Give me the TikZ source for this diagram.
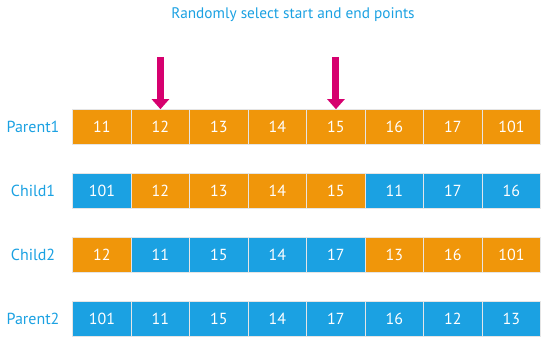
\documentclass[tikz,border=0pt]{standalone}
\usepackage{fontspec}
\setmainfont{PT Sans}
\usetikzlibrary{arrows.meta}
\definecolor{gaorange}{HTML}{F0960A}
\definecolor{gablue}{HTML}{1BA1E2}
\definecolor{gapink}{HTML}{D6006F}
\tikzset{
    cell/.style={draw=white!80!gray, line width=0.6pt, minimum width=58.5pt, minimum height=35pt,
        inner sep=0pt, text=white, font=\fontsize{16}{18}\selectfont},
    rowlabel/.style={text=gablue, font=\fontsize{16}{18}\selectfont},
    pick/.style={gapink, line width=7pt, -{Triangle[length=10pt,width=17pt]}}
}
\begin{document}
\begin{tikzpicture}[x=1pt,y=-1pt]
    \useasboundingbox (0,0) rectangle (550,342);
    \node[rowlabel, font=\fontsize{15.3}{18}\selectfont] (title) at (293,15) {Randomly select start and end points};
    % rows: label, y, cells
    \node[rowlabel] (L1) at (33,127) {Parent1};
    \foreach \v/\c [count=\i] in {11/gaorange,12/gaorange,13/gaorange,14/gaorange,15/gaorange,16/gaorange,17/gaorange,101/gaorange}
        \node[cell, fill=\c] (P1_\i) at (43.45+58.5*\i,127) {\v};
    \node[rowlabel] (L2) at (33,191) {Child1};
    \foreach \v/\c [count=\i] in {101/gablue,12/gaorange,13/gaorange,14/gaorange,15/gaorange,11/gablue,17/gablue,16/gablue}
        \node[cell, fill=\c] (C1_\i) at (43.45+58.5*\i,191) {\v};
    \node[rowlabel] (L3) at (33,255) {Child2};
    \foreach \v/\c [count=\i] in {12/gaorange,11/gablue,15/gablue,14/gablue,17/gablue,13/gaorange,16/gaorange,101/gaorange}
        \node[cell, fill=\c] (C2_\i) at (43.45+58.5*\i,255) {\v};
    \node[rowlabel] (L4) at (33,318.5) {Parent2};
    \foreach \v/\c [count=\i] in {101/gablue,11/gablue,15/gablue,14/gablue,17/gablue,16/gablue,12/gablue,13/gablue}
        \node[cell, fill=\c] (P2_\i) at (43.45+58.5*\i,318.5) {\v};
    % start and end markers
    \coordinate (A1) at (160.45,57);
    \coordinate (A2) at (335.95,57);
    \draw[pick] (A1) -- (P1_2.north);
    \draw[pick] (A2) -- (P1_5.north);
\end{tikzpicture}
\end{document}
